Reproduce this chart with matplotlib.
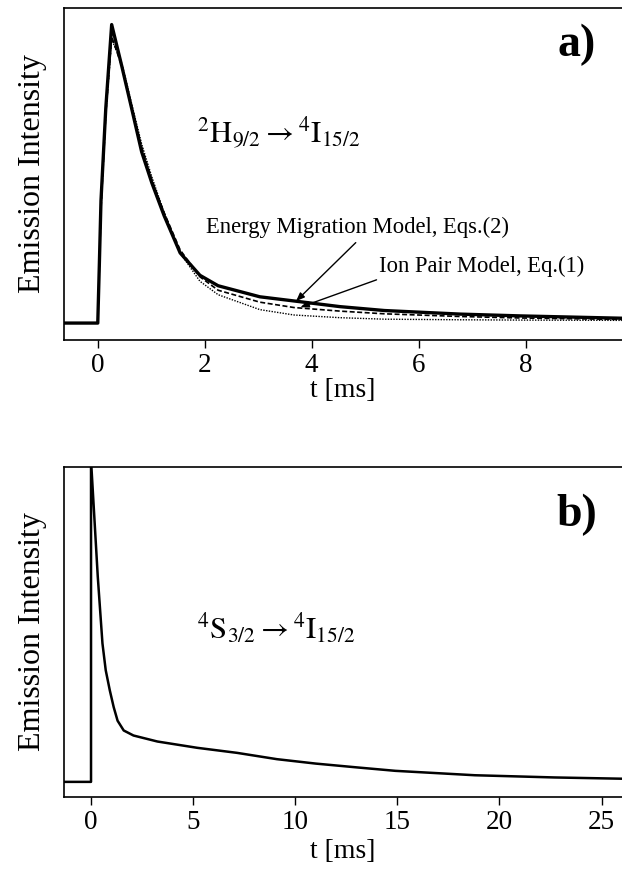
import numpy as np
import matplotlib.pyplot as plt

plt.rcParams['font.family'] = 'Liberation Serif'
plt.rcParams['mathtext.fontset'] = 'stix'

# panel a) 2H9/2 -> 4I15/2 (normalised intensity)
t_a = [-0.63, 0.0, 0.03, 0.06, 0.15, 0.26, 0.45, 0.64, 0.82, 1.01, 1.24, 1.54,
       1.91, 2.25, 3.03, 3.67, 4.53, 5.36, 6.78, 7.9, 9.85]
meas_a = [0.0, 0.0, 0.2, 0.41, 0.72, 1.0, 0.86, 0.714, 0.574, 0.47, 0.36, 0.235,
          0.16, 0.125, 0.088, 0.074, 0.055, 0.042, 0.03, 0.024, 0.016]
migr_a = [0.0, 0.0, 0.19, 0.38, 0.7, 0.96, 0.86, 0.72, 0.59, 0.48, 0.37, 0.245,
          0.155, 0.11, 0.07, 0.052, 0.04, 0.031, 0.022, 0.017, 0.012]
pair_a = [0.0, 0.0, 0.19, 0.38, 0.7, 0.95, 0.87, 0.73, 0.6, 0.49, 0.37, 0.235,
          0.14, 0.095, 0.045, 0.027, 0.018, 0.013, 0.011, 0.01, 0.009]

# panel b) 4S3/2 -> 4I15/2
t_b = [-1.32, 0.0, 0.0, 0.14, 0.33, 0.56, 0.72, 0.92, 1.11, 1.3, 1.6, 2.08, 3.25,
       5.2, 7.15, 9.1, 11.0, 13.0, 14.9, 18.8, 22.7, 26.0]
meas_b = [0.0, 0.0, 1.02, 0.864, 0.651, 0.439, 0.354, 0.29, 0.237, 0.194, 0.163,
          0.147, 0.128, 0.108, 0.092, 0.072, 0.058, 0.046, 0.035, 0.021, 0.014, 0.01]

ticks_a = [0, 2, 4, 6, 8]
ticks_b = [0, 5, 10, 15, 20, 25]

fig = plt.figure(figsize=(6.22, 8.72), dpi=100)
ax1 = fig.add_axes([0.103, 0.610, 0.897, 0.381])
ax2 = fig.add_axes([0.103, 0.086, 0.897, 0.379])

ax1.plot(t_a, pair_a, color='black', lw=1.0, ls=(0, (1, 1)))
ax1.plot(t_a, migr_a, color='black', lw=1.2, ls=(0, (3, 1.5)))
ax1.plot(t_a, meas_a, color='black', lw=2.4)
ax1.set_xlim(-0.63, 9.8)
ax1.set_ylim(-0.057, 1.056)
ax1.set_xticks(ticks_a)

ax2.plot(t_b, meas_b, color='black', lw=1.8)
ax2.set_xlim(-1.32, 26.0)
ax2.set_ylim(-0.048, 1.0)
ax2.set_xticks(ticks_b)

for ax in (ax1, ax2):
    ax.spines['right'].set_visible(False)
    ax.set_yticks([])
    ax.tick_params(axis='x', direction='out', length=6, width=1, labelsize=19.5, pad=3)
    ax.set_ylabel('Emission Intensity', fontsize=23, labelpad=12)
    for s in ax.spines.values():
        s.set_linewidth(1.2)

ax1.set_xlabel('t [ms]', fontsize=20, labelpad=0)
ax2.set_xlabel('t [ms]', fontsize=20, labelpad=3)

ax1.text(0.919, 0.889, 'a)', transform=ax1.transAxes, fontsize=33,
         fontweight='bold', ha='center', va='center')
ax2.text(0.919, 0.855, 'b)', transform=ax2.transAxes, fontsize=33,
         fontweight='bold', ha='center', va='center')

ax1.text(0.384, 0.623, r'$^{2}\mathrm{H}_{9/2} \rightarrow {}^{4}\mathrm{I}_{15/2}$',
         transform=ax1.transAxes, fontsize=22, ha='center', va='center')
ax2.text(0.38, 0.512, r'$^{4}\mathrm{S}_{3/2} \rightarrow {}^{4}\mathrm{I}_{15/2}$',
         transform=ax2.transAxes, fontsize=22, ha='center', va='center')

ax1.text(4.85, 0.32, 'Energy Migration Model, Eqs.(2)', fontsize=16.3,
         ha='center', va='center')
ax1.text(7.17, 0.19, 'Ion Pair Model, Eq.(1)', fontsize=16.3,
         ha='center', va='center')
arrow = dict(arrowstyle='-|>,head_length=0.5,head_width=0.2', color='black', lw=1.0)
ax1.annotate('', xy=(3.67, 0.067), xytext=(4.86, 0.276), arrowprops=arrow)
ax1.annotate('', xy=(3.74, 0.05), xytext=(5.26, 0.148), arrowprops=arrow)

fig.savefig('out.png', dpi=100)
